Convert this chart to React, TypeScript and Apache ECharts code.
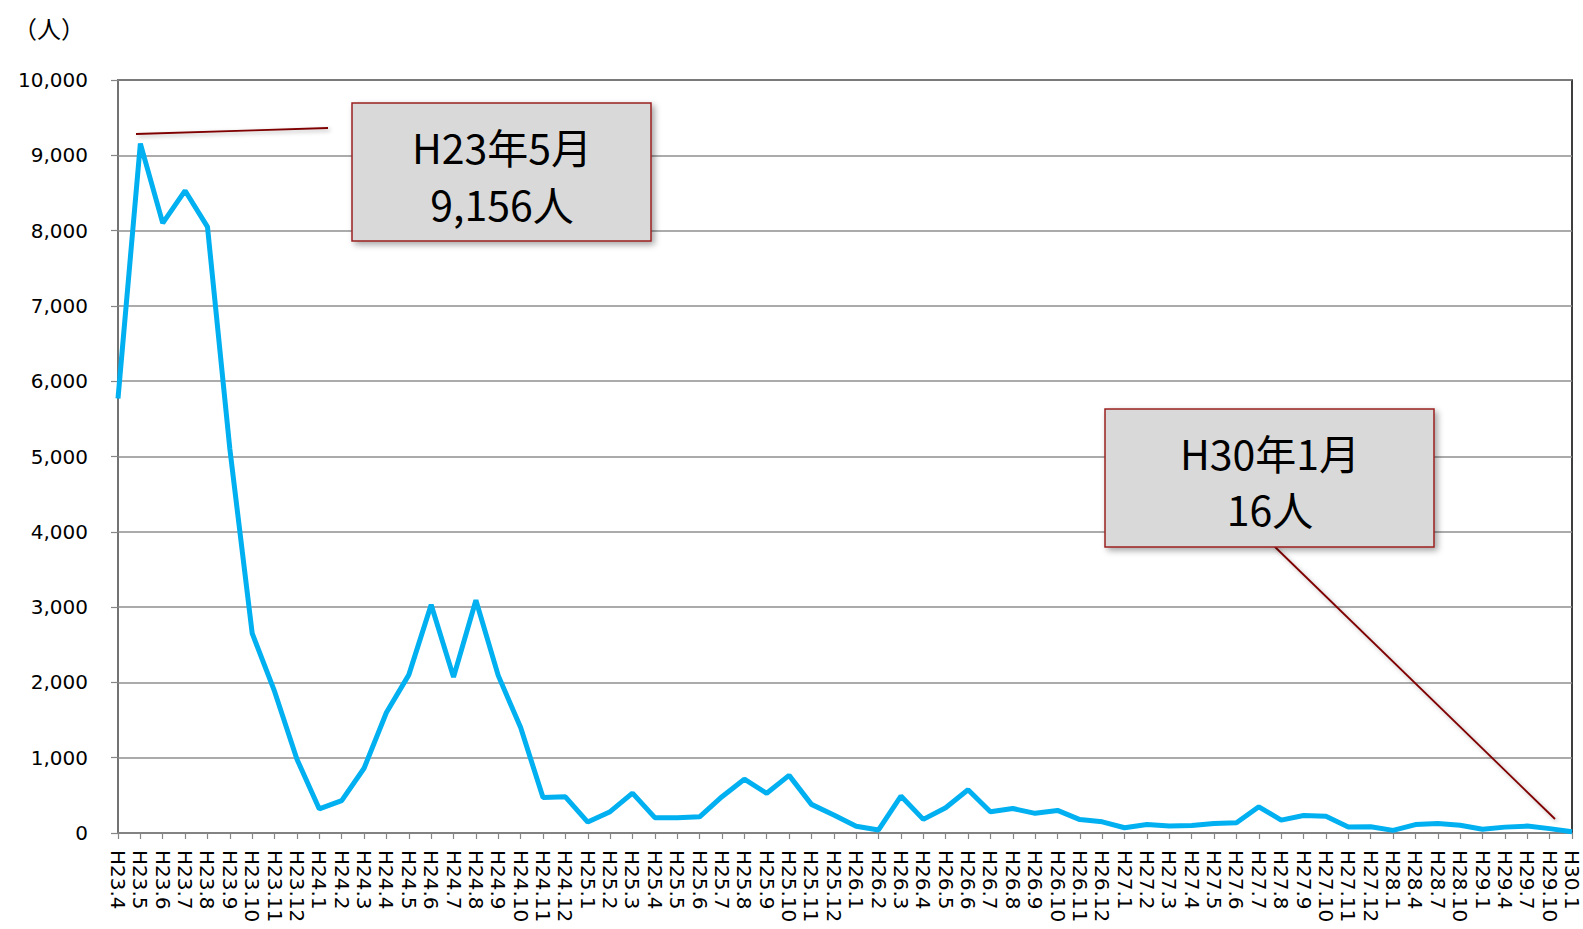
import React, { useEffect, useRef } from "react";
import * as echarts from "echarts";

const categories: string[] = [
  "H23.4", "H23.5", "H23.6", "H23.7", "H23.8", "H23.9", "H23.10", "H23.11", "H23.12",
  "H24.1", "H24.2", "H24.3", "H24.4", "H24.5", "H24.6", "H24.7", "H24.8", "H24.9", "H24.10", "H24.11", "H24.12",
  "H25.1", "H25.2", "H25.3", "H25.4", "H25.5", "H25.6", "H25.7", "H25.8", "H25.9", "H25.10", "H25.11", "H25.12",
  "H26.1", "H26.2", "H26.3", "H26.4", "H26.5", "H26.6", "H26.7", "H26.8", "H26.9", "H26.10", "H26.11", "H26.12",
  "H27.1", "H27.2", "H27.3", "H27.4", "H27.5", "H27.6", "H27.7", "H27.8", "H27.9", "H27.10", "H27.11", "H27.12",
  "H28.1", "H28.4", "H28.7", "H28.10", "H29.1", "H29.4", "H29.7", "H29.10", "H30.1",
];

const persons: number[] = [
  5770, 9156, 8100, 8530, 8050, 5100, 2650, 1880, 980,
  320, 430, 860, 1600, 2100, 3030, 2070, 3090, 2090, 1400, 470, 480,
  145, 283, 530, 204, 204, 215, 482, 715, 527, 765, 380, 240,
  90, 40, 490, 181, 336, 575, 283, 325, 261, 300, 178, 148,
  70, 112, 92, 100, 125, 135, 348, 171, 232, 224, 80, 82,
  35, 112, 125, 103, 50, 78, 92, 58, 16,
];

const yTicks = { min: 0, max: 10000, interval: 1000 };
const unitLabel = "（人）";
const callout1 = ["H23年5月", "9,156人"];
const callout2 = ["H30年1月", "16人"];

const FONT = "'DejaVu Sans', 'Noto Sans CJK JP', sans-serif";
const CJK = "'Noto Sans CJK JP', sans-serif";

export default function App() {
  const ref = useRef<HTMLDivElement>(null);
  useEffect(() => {
    if (!ref.current) return;
    const chart = echarts.init(ref.current, null, { renderer: "svg" });
    const boxStyle = {
      fill: "#d9d9d9",
      stroke: "#9a1f1f",
      lineWidth: 1.5,
      shadowBlur: 6,
      shadowOffsetX: 3,
      shadowOffsetY: 3,
      shadowColor: "rgba(0,0,0,0.35)",
    };
    const textStyle = (t: string, x: number, y: number) => ({
      type: "text",
      x,
      y,
      z: 110,
      style: {
        text: t,
        fill: "#000",
        font: `41px ${CJK}`,
        textAlign: "center",
        textVerticalAlign: "middle",
      },
    });
    const lineStyle = {
      stroke: "#7f0000",
      lineWidth: 1.8,
      shadowBlur: 4,
      shadowOffsetX: 2,
      shadowOffsetY: 2,
      shadowColor: "rgba(0,0,0,0.3)",
    };
    chart.setOption({
      animation: false,
      backgroundColor: "#fff",
      grid: {
        left: 118,
        right: 11,
        top: 80,
        bottom: 96,
        show: true,
        borderColor: "#000",
        borderWidth: 1.5,
      },
      xAxis: {
        type: "category",
        data: categories,
        boundaryGap: false,
        axisLine: { lineStyle: { color: "#868686", width: 1.5 } },
        axisTick: { show: true, length: 6, interval: 0, lineStyle: { color: "#868686", width: 1.2 } },
        axisLabel: {
          interval: 0,
          rotate: -90,
          margin: 17,
          color: "#000",
          fontFamily: FONT,
          fontSize: 20,
        },
        splitLine: { show: false },
      },
      yAxis: {
        type: "value",
        min: yTicks.min,
        max: yTicks.max,
        interval: yTicks.interval,
        axisLine: { show: true, lineStyle: { color: "#868686", width: 1.5 } },
        axisTick: { show: true, length: 7, lineStyle: { color: "#868686", width: 1.2 } },
        axisLabel: {
          margin: 30,
          color: "#000",
          fontFamily: FONT,
          fontSize: 20,
          formatter: (v: number) => v.toLocaleString("en-US"),
        },
        splitLine: { show: true, lineStyle: { color: "#8f8f8f", width: 1.5 } },
      },
      series: [
        {
          type: "line",
          data: persons,
          symbol: "none",
          lineStyle: { color: "#00b0f0", width: 5 },
          z: 5,
        },
      ],
      graphic: [
        {
          type: "text",
          x: 49,
          y: 27,
          style: {
            text: unitLabel,
            fill: "#000",
            font: `24px ${CJK}`,
            textAlign: "center",
            textVerticalAlign: "middle",
          },
        },
        { type: "line", z: 100, shape: { x1: 136, y1: 134, x2: 328, y2: 128 }, style: lineStyle },
        { type: "line", z: 100, shape: { x1: 1274, y1: 546, x2: 1555, y2: 819 }, style: lineStyle },
        { type: "rect", z: 100, shape: { x: 352, y: 103, width: 299, height: 138 }, style: boxStyle },
        textStyle(callout1[0], 502, 146),
        textStyle(callout1[1], 502, 203),
        { type: "rect", z: 100, shape: { x: 1105, y: 409, width: 329, height: 138 }, style: boxStyle },
        textStyle(callout2[0], 1270, 452),
        textStyle(callout2[1], 1270, 508),
      ],
    });
    return () => chart.dispose();
  }, []);
  return (
    <div
      ref={ref}
      style={{ position: "fixed", left: 0, top: 0, width: 1583, height: 929 }}
    />
  );
}
